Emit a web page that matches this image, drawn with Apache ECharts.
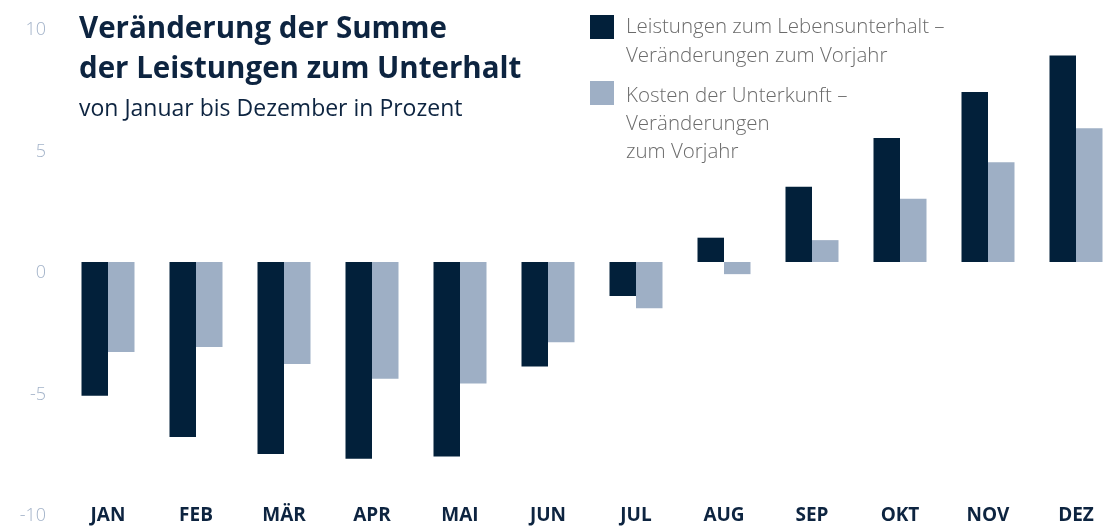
<!DOCTYPE html>
<html>
<head>
<meta charset="utf-8">
<script src="https://cdn.jsdelivr.net/npm/echarts@6/dist/echarts.min.js"></script>
<style>
html,body{margin:0;padding:0;background:#fff;}
#chart{width:1103px;height:526px;}
</style>
</head>
<body>
<div id="chart"></div>
<script>
var categories = ['JAN','FEB','MÄR','APR','MAI','JUN','JUL','AUG','SEP','OKT','NOV','DEZ'];
var seriesNames = ['Leistungen zum Lebensunterhalt –\nVeränderungen zum Vorjahr', 'Kosten der Unterkunft –\nVeränderungen\nzum Vorjahr'];
var lebensunterhalt = [-5.5, -7.2, -7.9, -8.1, -8.0, -4.3, -1.4, 1.0, 3.1, 5.1, 7.0, 8.5];
var unterkunft = [-3.7, -3.5, -4.2, -4.8, -5.0, -3.3, -1.9, -0.5, 0.9, 2.6, 4.1, 5.5];
var yTicks = [-10, -5, 0, 5, 10];

var DARK = '#02203a';
var LIGHT = '#9eafc5';
var TEXT = '#0d2440';
var FONT = '"Open Sans", "Noto Sans", sans-serif';

var chart = echarts.init(document.getElementById('chart'), null, {renderer: 'canvas'});

var option = {
  backgroundColor: '#ffffff',
  animation: false,
  grid: {left: 64, width: 1056, top: 19, height: 486, containLabel: false, outerBoundsMode: 'none'},
  xAxis: {
    type: 'category',
    data: categories,
    position: 'bottom',
    axisLine: {show: false},
    axisTick: {show: false},
    splitLine: {show: false},
    axisLabel: {
      margin: 1,
      verticalAlign: 'top',
      color: TEXT,
      fontSize: 19,
      fontWeight: 'bold',
      fontFamily: FONT
    }
  },
  yAxis: {
    type: 'value',
    min: yTicks[0],
    max: yTicks[yTicks.length - 1],
    interval: 5,
    axisLine: {show: false},
    axisTick: {show: false},
    splitLine: {show: false},
    axisLabel: {
      margin: 18,
      color: '#a3b3c9',
      fontSize: 18,
      fontWeight: 300,
      fontFamily: FONT,
      verticalAlign: 'top',
      lineHeight: 22
    }
  },
  series: [
    {
      name: seriesNames[0],
      type: 'bar',
      data: lebensunterhalt,
      barWidth: 26.5,
      barGap: '0%',
      itemStyle: {color: DARK}
    },
    {
      name: seriesNames[1],
      type: 'bar',
      data: unterkunft,
      barWidth: 26.5,
      barGap: '0%',
      itemStyle: {color: LIGHT}
    }
  ],
  graphic: [
    {
      type: 'text', left: 79, top: 10,
      style: {
        text: 'Veränderung der Summe\nder Leistungen zum Unterhalt',
        fill: TEXT, font: 'bold 29.5px ' + FONT, lineHeight: 40
      }
    },
    {
      type: 'text', left: 79, top: 95,
      style: {
        text: 'von Januar bis Dezember in Prozent',
        fill: TEXT, font: '23px ' + FONT, lineHeight: 28
      }
    },
    {type: 'rect', shape: {x: 590, y: 15, width: 24, height: 24}, style: {fill: DARK}},
    {
      type: 'text', left: 626, top: 13,
      style: {text: seriesNames[0], fill: '#6b6b6b', font: '300 20.5px ' + FONT, lineHeight: 29}
    },
    {type: 'rect', shape: {x: 590, y: 81, width: 24, height: 24}, style: {fill: LIGHT}},
    {
      type: 'text', left: 626, top: 82,
      style: {text: seriesNames[1], fill: '#6b6b6b', font: '300 20.5px ' + FONT, lineHeight: 28}
    }
  ]
};
chart.setOption(option);
</script>
</body>
</html>
